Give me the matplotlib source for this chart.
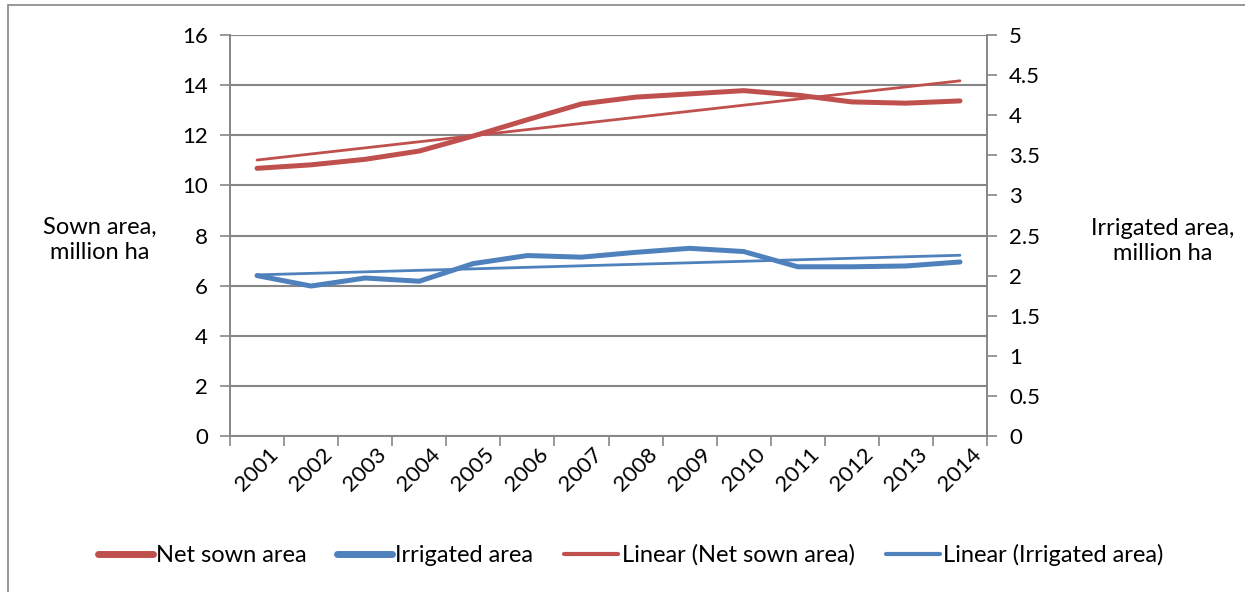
import numpy as np
import matplotlib
matplotlib.use("Agg")
import matplotlib.pyplot as plt
from matplotlib.patches import Rectangle

plt.rcParams['font.family'] = ['Lato', 'DejaVu Sans']

years = ["2001", "2002", "2003", "2004", "2005", "2006", "2007",
         "2008", "2009", "2010", "2011", "2012", "2013", "2014"]
net_sown = [10.68, 10.82, 11.04, 11.37, 11.97, 12.62, 13.25,
            13.52, 13.65, 13.78, 13.6, 13.33, 13.28, 13.37]
irrigated = [2.0, 1.87, 1.97, 1.93, 2.15, 2.25, 2.23,
             2.29, 2.34, 2.3, 2.11, 2.11, 2.12, 2.17]

red = "#C0504D"
blue = "#4F81BD"
grey = "#868686"

x = np.arange(len(years))
fit_sown = np.polyval(np.polyfit(x, net_sown, 1), x)
fit_irr = np.polyval(np.polyfit(x, irrigated, 1), x)

fig = plt.figure(figsize=(12.45, 5.92), dpi=100)
ax = fig.add_axes([230/1245, 1-436/592, (987-230)/1245, (436-35)/592])
ax2 = ax.twinx()

# outer chart border (cropped in the reference)
fig.patches.append(Rectangle((8/1245, -0.5), 2, 1.5 - 5/592, transform=fig.transFigure,
                             fill=False, edgecolor=grey, lw=1.2))

l1, = ax.plot(x, net_sown, color=red, lw=3.6, solid_capstyle='round', solid_joinstyle='round', zorder=3)
l3, = ax.plot(x, fit_sown, color=red, lw=2.0, solid_capstyle='round', zorder=3)
l2, = ax2.plot(x, irrigated, color=blue, lw=3.6, solid_capstyle='round', solid_joinstyle='round')
l4, = ax2.plot(x, fit_irr, color=blue, lw=2.0, solid_capstyle='round')

ax.set_xlim(-0.5, len(years) - 0.5)
ax.set_ylim(0, 16)
ax2.set_ylim(0, 5)
ax.set_yticks(np.arange(0, 17, 2))
ax2.set_yticks(np.arange(0, 5.01, 0.5))
ax2.set_yticklabels(["0", "0.5", "1", "1.5", "2", "2.5", "3", "3.5", "4", "4.5", "5"])

ax.set_xticks(np.arange(-0.5, len(years), 1))
ax.set_xticklabels([])
ax.set_xticks(x, minor=True)
ax.set_xticklabels(years, minor=True, rotation=45, ha='center', va='top', fontsize=16)
ax.tick_params(axis='x', which='minor', length=0, pad=6)
ax.tick_params(axis='x', which='major', length=7, width=1.2, color=grey)

ax.tick_params(axis='y', length=7, width=1.2, color=grey, labelsize=16, pad=9)
ax2.tick_params(axis='y', length=7, width=1.2, color=grey, labelsize=16, pad=9)

ax.yaxis.grid(True, color=grey, lw=1.5)
ax.set_axisbelow(True)
for a in (ax, ax2):
    for s in a.spines.values():
        s.set_color(grey)
        s.set_linewidth(1.2)
    a.spines['top'].set_visible(False)

fig.text(100/1245, 1-240/592, "Sown area,\nmillion ha", ha='center', va='center',
         fontsize=17, linespacing=1.25)
fig.text(1163/1245, 1-241/592, "Irrigated area,\nmillion ha", ha='center', va='center',
         fontsize=17, linespacing=1.25)

leg = fig.legend([l1, l2, l3, l4],
                 ["Net sown area", "Irrigated area", "Linear (Net sown area)", "Linear (Irrigated area)"],
                 loc='center', bbox_to_anchor=(631/1245, 1-555/592), ncol=4, frameon=False,
                 fontsize=17, handlelength=2.3, handletextpad=0.15, columnspacing=1.3)
for h in leg.get_lines()[:2]:
    h.set_linewidth(5)
for h in leg.get_lines()[2:]:
    h.set_linewidth(3)

fig.savefig("out.png", dpi=100)
